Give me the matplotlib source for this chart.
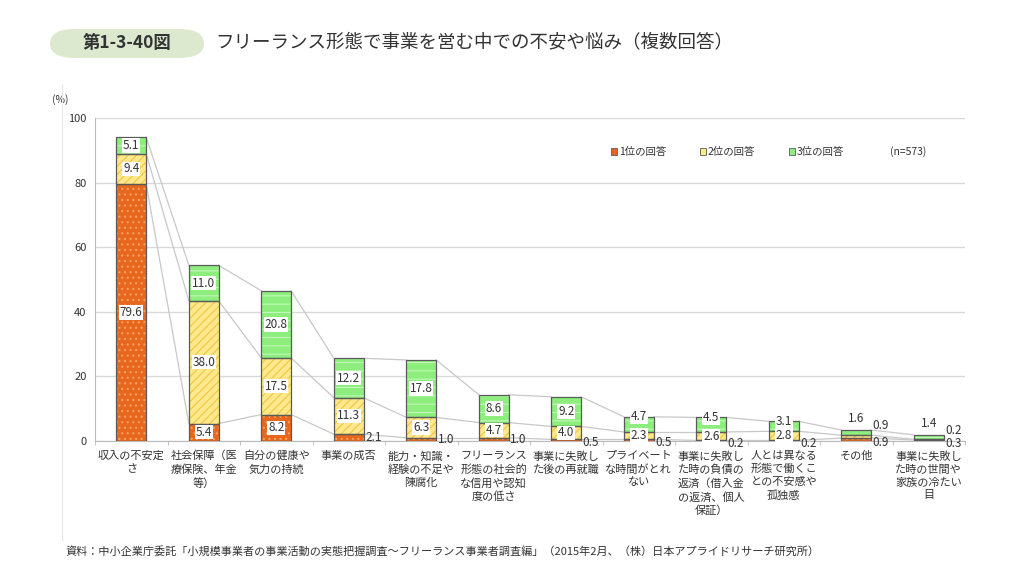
import matplotlib
matplotlib.use('Agg')
import matplotlib.pyplot as plt
from matplotlib.patches import FancyBboxPatch, Patch
from matplotlib.lines import Line2D
import numpy as np

plt.rcParams['font.family'] = ['Noto Sans CJK JP', 'DejaVu Sans']
plt.rcParams['hatch.linewidth'] = 0.8

####################################################
# Data
####################################################
categories = [
    '収入の不安定\nさ',
    '社会保障（医\n療保険、年金\n等）',
    '自分の健康や\n気力の持続',
    '事業の成否',
    '能力・知識・\n経験の不足や\n陳腐化',
    'フリーランス\n形態の社会的\nな信用や認知\n度の低さ',
    '事業に失敗し\nた後の再就職',
    'プライベート\nな時間がとれ\nない',
    '事業に失敗し\nた時の負債の\n返済（借入金\nの返済、個人\n保証）',
    '人とは異なる\n形態で働くこ\nとの不安感や\n孤独感',
    'その他',
    '事業に失敗し\nた時の世間や\n家族の冷たい\n目',
]
rank1 = [79.6, 5.4, 8.2, 2.1, 1.0, 1.0, 0.5, 0.5, 0.2, 0.2, 0.9, 0.3]
rank2 = [9.4, 38.0, 17.5, 11.3, 6.3, 4.7, 4.0, 2.3, 2.6, 2.8, 0.9, 0.2]
rank3 = [5.1, 11.0, 20.8, 12.2, 17.8, 8.6, 9.2, 4.7, 4.5, 3.1, 1.6, 1.4]
series_names = ['1位の回答', '2位の回答', '3位の回答']

title_tag = '第1-3-40図'
title = 'フリーランス形態で事業を営む中での不安や悩み（複数回答）'
source = '資料：中小企業庁委託「小規模事業者の事業活動の実態把握調査～フリーランス事業者調査編」（2015年2月、（株）日本アプライドリサーチ研究所）'

####################################################
# Styles
####################################################
face_colors = ['#E8671E', '#FFE98C', '#8DEE7E']
hatch_colors = ['#F6A260', '#F2C540', '#C4F7BA']
hatches = ['...', '////', '--']
edge_color = '#5A5A5A'
line_color = '#C8C8C8'
text_color = '#333333'

####################################################
# Plot
####################################################
fig = plt.figure(figsize=(10.24, 5.76), dpi=100)
ax = fig.add_axes([95/1024, 1-441/576, 870/1024, 323/576])

x = np.arange(len(categories))
w = 0.41
r1 = np.array(rank1)
r2 = np.array(rank2)
r3 = np.array(rank3)
bottoms = [np.zeros(len(x)), r1, r1 + r2]
values = [r1, r2, r3]

for i in range(3):
    ax.bar(x, values[i], w, bottom=bottoms[i], color=face_colors[i],
           edgecolor=hatch_colors[i], hatch=hatches[i], linewidth=0, zorder=3)
    ax.bar(x, values[i], w, bottom=bottoms[i], fill=False,
           edgecolor=edge_color, linewidth=0.9, zorder=4)

# connecting lines between stacked levels
levels = [r1, r1 + r2, r1 + r2 + r3]
for lv in levels:
    for j in range(len(x) - 1):
        ax.plot([x[j] + w/2, x[j+1] - w/2], [lv[j], lv[j+1]],
                color=line_color, linewidth=0.9, zorder=2)

# value labels
box = dict(boxstyle='square,pad=0.06', fc='white', ec='none')
for j in range(len(x)):
    for i in range(3):
        v = values[i][j]
        b = bottoms[i][j]
        if i == 2 and 2.2 <= v < 5:
            # small green segments: label sits on the top edge
            ax.text(x[j], b + v, f'{v:.1f}', ha='center', va='center',
                    fontsize=8.5, color=text_color, bbox=box, zorder=6)
        elif v >= 2.2:
            ax.text(x[j], b + v/2, f'{v:.1f}', ha='center', va='center',
                    fontsize=8.5, color=text_color, bbox=box, zorder=6)
        elif i == 0:
            off = -2 if v < 1 else 0
            ax.annotate(f'{v:.1f}', (x[j] + w/2 + 0.02, v/2), xytext=(0, off),
                        textcoords='offset points', ha='left', va='center',
                        fontsize=8.5, color=text_color, zorder=6)
        elif i == 1:
            ax.annotate(f'{v:.1f}', (x[j] + w/2 + 0.02, b + v), xytext=(0, 2),
                        textcoords='offset points', ha='left', va='bottom',
                        fontsize=8.5, color=text_color, zorder=6)
        else:
            ax.text(x[j], b + v + 1.5, f'{v:.1f}', ha='center', va='bottom',
                    fontsize=8.5, color=text_color, zorder=6)

ax.set_xlim(-0.5, len(x) - 0.5)
ax.set_ylim(0, 100)
ax.set_yticks(range(0, 101, 20))
ax.yaxis.grid(True, color='#D9D9D9', linewidth=1.0)
ax.set_axisbelow(True)
ax.set_xticks(x)
ax.set_xticklabels(categories, fontsize=8, color=text_color, linespacing=1.35, va='top')
ax.set_xticks(np.arange(-0.5, len(x)), minor=True)
ax.tick_params(axis='x', which='major', length=0, pad=7)
ax.tick_params(axis='x', which='minor', length=3, color='#BBBBBB')
ax.tick_params(axis='y', length=0, labelsize=8, labelcolor=text_color, pad=6)
for s in ['top', 'right']:
    ax.spines[s].set_visible(False)
for s in ['left', 'bottom']:
    ax.spines[s].set_color('#BBBBBB')
ax.text(-0.03, 1.04, '(%)', transform=ax.transAxes, fontsize=7.5,
        color=text_color, ha='right', va='bottom')

# legend
handles = [Patch(facecolor=face_colors[i], edgecolor=edge_color, linewidth=0.6)
           for i in range(3)]
leg = ax.legend(handles, series_names, loc='center left',
                bbox_to_anchor=(0.582, 0.895), ncol=3, frameon=False,
                fontsize=7.5, handlelength=0.6, handleheight=0.6,
                handletextpad=0.2, columnspacing=3.2)
for t in leg.get_texts():
    t.set_color(text_color)
ax.text(0.914, 0.895, '(n=573)', transform=ax.transAxes, fontsize=7.5,
        color=text_color, va='center', ha='left')

# title
tag = FancyBboxPatch((50/1024, 1-58/576), 154/1024, 29/576,
                     boxstyle='round,pad=0,rounding_size=0.025',
                     transform=fig.transFigure, fc='#DCE9CF', ec='none')
fig.patches.append(tag)
fig.text(127/1024, 1-43/576, title_tag, ha='center', va='center',
         fontsize=12.5, fontweight='bold', color=text_color)
fig.text(215/1024, 1-43/576, title, ha='left', va='center',
         fontsize=13.3, color=text_color)

# source note and faint frame line
fig.text(65/1024, 1-551/576, source, ha='left', va='center',
         fontsize=8, color=text_color)
fig.add_artist(Line2D([62/1024, 62/1024], [1-85/576, 1-540/576],
                      transform=fig.transFigure, color='#E6E6E6', linewidth=0.8))

fig.savefig('out.png', dpi=100, facecolor='white')
